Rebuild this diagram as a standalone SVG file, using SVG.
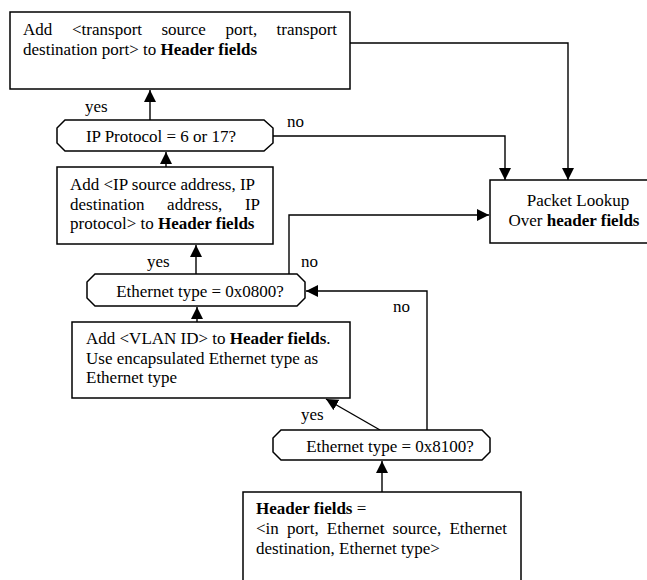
<svg xmlns="http://www.w3.org/2000/svg" width="647" height="580" viewBox="0 0 647 580">
<style>
text{font-family:"Liberation Serif","Times New Roman",serif;font-size:17px;fill:#000}
.b{font-weight:bold}
.box{fill:#fff;stroke:#000;stroke-width:1.5}
.c{fill:none;stroke:#000;stroke-width:1.4}
.m{text-anchor:middle}
</style>
<defs>
<marker id="ah" markerUnits="userSpaceOnUse" markerWidth="13" markerHeight="13" refX="12" refY="6.5" orient="auto" viewBox="0 0 13 13">
<path d="M0,0.5 L12,6.5 L0,12.5 z" fill="#000"/>
</marker>
</defs>
<rect width="647" height="580" fill="#fff"/>
<g id="connectors">
<path class="c" d="M150,120 V90" marker-end="url(#ah)"/>
<path class="c" d="M273,136 H505 V180" marker-end="url(#ah)"/>
<path class="c" d="M350,43 H568 V180" marker-end="url(#ah)"/>
<path class="c" d="M166,167 V152" marker-end="url(#ah)"/>
<path class="c" d="M289,274 V215 H489" marker-end="url(#ah)"/>
<path class="c" d="M196,274 V245" marker-end="url(#ah)"/>
<path class="c" d="M197,322 V307" marker-end="url(#ah)"/>
<path class="c" d="M427,430 V291 H306" marker-end="url(#ah)"/>
<path class="c" d="M380,430 L326,399" marker-end="url(#ah)"/>
<path class="c" d="M382,492 V461" marker-end="url(#ah)"/>
<text x="85" y="112">yes</text>
<text x="287" y="127">no</text>
<text x="147" y="267">yes</text>
<text x="301" y="267">no</text>
<text x="393" y="312">no</text>
<text x="301" y="420">yes</text>
</g>
<g id="add-transport">
<rect class="box" x="10" y="12" width="340" height="77"/>
<text y="35"><tspan x="23">Add</tspan><tspan x="72">&lt;transport</tspan><tspan x="161.5">source</tspan><tspan x="225.5">port,</tspan><tspan x="276.6">transport</tspan></text>
<text x="23" y="55">destination port&gt; to <tspan class="b">Header fields</tspan></text>
</g>
<g id="ip-protocol">
<polygon class="box" points="65,120 264,120 273,128 273,143 264,151 65,151 57,143 57,128"/>
<text x="161" y="142" class="m">IP Protocol = 6 or 17?</text>
</g>
<g id="add-ip">
<rect class="box" x="57" y="167" width="216" height="77"/>
<text x="70" y="190">Add &lt;IP source address, IP</text>
<text y="210"><tspan x="70">destination</tspan><tspan x="167.1">address,</tspan><tspan x="244.9">IP</tspan></text>
<text x="70" y="229">protocol&gt; to <tspan class="b">Header fields</tspan></text>
</g>
<g id="packet-lookup">
<rect class="box" x="490" y="180" width="170" height="63"/>
<text x="578" y="206" class="m">Packet Lookup</text>
<text x="574" y="226" class="m">Over <tspan class="b">header fields</tspan></text>
</g>
<g id="eth-0800">
<polygon class="box" points="95,274 297,274 305,282 305,298 297,306 95,306 87,298 87,282"/>
<text x="200" y="297" class="m">Ethernet type = 0x0800?</text>
</g>
<g id="add-vlan">
<rect class="box" x="72" y="322" width="278" height="76"/>
<text x="86" y="344">Add &lt;VLAN ID&gt; to <tspan class="b">Header fields</tspan>.</text>
<text x="86" y="364">Use encapsulated Ethernet type as</text>
<text x="86" y="383">Ethernet type</text>
</g>
<g id="eth-8100">
<polygon class="box" points="281,430 482,430 490,438 490,452 482,460 281,460 273,452 273,438"/>
<text x="390" y="452" class="m">Ethernet type = 0x8100?</text>
</g>
<g id="header-fields">
<rect class="box" x="243" y="492" width="278" height="100"/>
<text x="256" y="514"><tspan class="b">Header fields</tspan> =</text>
<text y="534"><tspan x="256">&lt;in</tspan><tspan x="287">port,</tspan><tspan x="326.8">Ethernet</tspan><tspan x="392.6">source,</tspan><tspan x="449.4">Ethernet</tspan></text>
<text x="256" y="554">destination, Ethernet type&gt;</text>
</g>
</svg>
